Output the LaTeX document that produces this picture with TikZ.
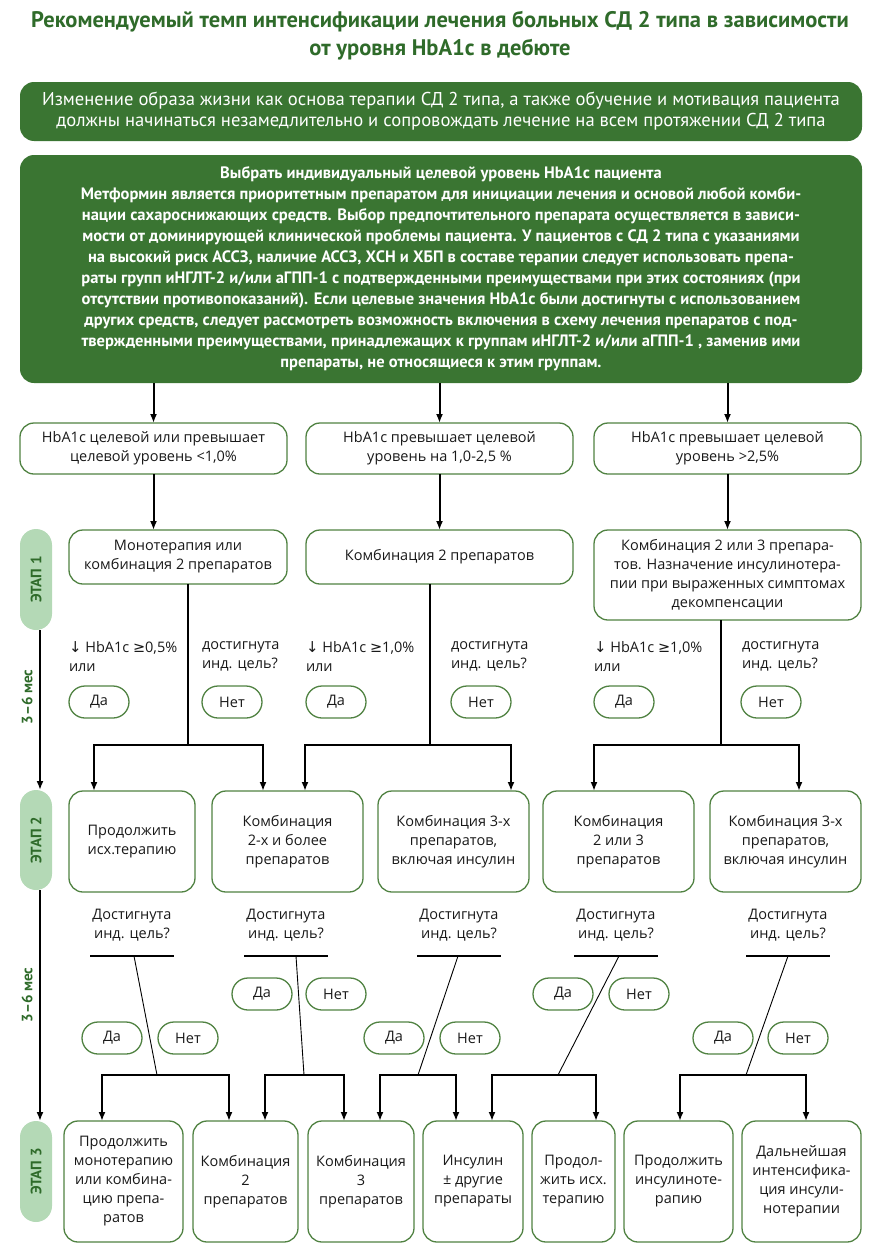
\documentclass[tikz,border=0pt]{standalone}
\usepackage{fontspec}
\setmainfont{Open Sans}
\newfontfamily\ptsans{PT Sans}
\newfontfamily\symf{DejaVu Sans}
\usetikzlibrary{arrows.meta}
\definecolor{gdark}{RGB}{58,117,50}
\definecolor{gtitle}{RGB}{47,107,42}
\definecolor{gline}{RGB}{80,130,66}
\definecolor{glight}{RGB}{180,217,182}
\definecolor{ink}{RGB}{25,25,25}
\begin{document}
\begin{tikzpicture}[x=1pt,y=-1pt,
  every node/.style={inner sep=0pt,outer sep=0pt},
  gbox/.style={fill=gdark,rounded corners=14pt,text=white,align=center},
  nbox/.style={draw=gline,line width=1.3pt,rounded corners=14pt,fill=white,align=center,text=ink,
    font=\fontsize{14.5}{19}\selectfont},
  pill/.style={draw=gline,line width=1.3pt,rounded corners=16pt,minimum width=60pt,minimum height=32pt,
    text=ink,font=\fontsize{14.5}{19}\selectfont},
  crit/.style={anchor=west,align=left,text=ink,font=\fontsize{14.5}{19}\selectfont},
  quest/.style={align=center,text=ink,font=\fontsize{14.5}{19}\selectfont},
  etap/.style={fill=glight,rounded corners=16pt,minimum height=32pt,rotate=90,text=gtitle,
    font=\ptsans\bfseries\fontsize{15}{18}\selectfont},
  mes/.style={rotate=90,text=gtitle,font=\ptsans\bfseries\fontsize{15}{18}\selectfont},
  con/.style={line width=2pt,draw=black},
  arr/.style={line width=2pt,draw=black,-{Latex[length=9pt,width=7pt]}},
  thinl/.style={line width=0.9pt,draw=black}
]
\useasboundingbox (0,0) rectangle (880,1255);

% title
\node[align=center,text=gtitle,font=\ptsans\bfseries\fontsize{22.5}{28}\selectfont] (title) at (440,36)
  {Рекомендуемый темп интенсификации лечения больных СД 2 типа в зависимости\\от уровня HbA1c в дебюте};

% green boxes
\node[gbox,minimum width=842pt,minimum height=59pt,font=\ptsans\fontsize{18.6}{21}\selectfont] (life) at (441,111.5)
  {Изменение образа жизни как основа терапии СД 2 типа, а также обучение и мотивация пациента\\
   должны начинаться незамедлительно и сопровождать лечение на всем протяжении СД 2 типа};
\node[gbox,minimum width=842pt,minimum height=228pt,font=\ptsans\bfseries\fontsize{16.5}{21}\selectfont] (goal) at (441,269)
  {Выбрать индивидуальный целевой уровень HbA1c пациента\\
   Метформин является приоритетным препаратом для инициации лечения и основой любой комби-\\
   нации сахароснижающих средств. Выбор предпочтительного препарата осуществляется в зависи-\\
   мости от доминирующей клинической проблемы пациента. У пациентов с СД 2 типа с указаниями\\
   на высокий риск АССЗ, наличие АССЗ, ХСН и ХБП в составе терапии следует использовать препа-\\
   раты групп иНГЛТ-2 и/или аГПП-1 с подтвержденными преимуществами при этих состояниях (при\\
   отсутствии противопоказаний). Если целевые значения HbA1c были достигнуты с использованием\\
   других средств, следует рассмотреть возможность включения в схему лечения препаратов с под-\\
   твержденными преимуществами, принадлежащих к группам иНГЛТ-2 и/или аГПП-1 , заменив ими\\
   препараты, не относящиеся к этим группам.};

% level 1
\node[nbox,minimum width=267pt,minimum height=51pt] (h1a) at (153.5,448.5) {HbA1c целевой или превышает\\целевой уровень <1,0\%};
\node[nbox,minimum width=267pt,minimum height=51pt] (h1b) at (439.5,448.5) {HbA1c превышает целевой\\уровень на 1,0-2,5 \%};
\node[nbox,minimum width=267pt,minimum height=51pt] (h1c) at (727.5,448.5) {HbA1c превышает целевой\\уровень >2,5\%};

% etap 1 boxes
\node[nbox,minimum width=218pt,minimum height=54pt] (s1a) at (178,557) {Монотерапия или\\комбинация 2 препаратов};
\node[nbox,minimum width=267pt,minimum height=54pt] (s1b) at (439.5,557) {Комбинация 2 препаратов};
\node[nbox,minimum width=267pt,minimum height=90pt] (s1c) at (727.5,575) {Комбинация 2 или 3 препара-\\тов. Назначение инсулинотера-\\пии при выраженных симптомах\\декомпенсации};

% etap pills and timeline
\node[etap,minimum width=101pt] (et1) at (36,579.5) {ЭТАП 1};
\node[etap,minimum width=100pt] (et2) at (36,840) {ЭТАП 2};
\node[etap,minimum width=101pt] (et3) at (36,1171.5) {ЭТАП 3};
\node[mes] (m1) at (27,697) {3–6 мес};
\node[mes] (m2) at (27,995) {3–6 мес};
\draw[arr] ([xshift=4pt]et1.west) -- ([xshift=4pt]et2.east);
\draw[arr] ([xshift=4pt]et2.west) -- ([xshift=4pt]et3.east);

% criteria etap 1
\node[crit] (c1a) at (69,656.5) {{\symf\fontsize{15}{19}\selectfont ↓} HbA1c {\symf ≥}0,5\%\\или};
\node[crit] (c1b) at (202,656.5) {достигнута\\инд. цель?};
\node[crit] (c2a) at (306,656.5) {{\symf\fontsize{15}{19}\selectfont ↓} HbA1c {\symf ≥}1,0\%\\или};
\node[crit] (c2b) at (451,656.5) {достигнута\\инд. цель?};
\node[crit] (c3a) at (594,656.5) {{\symf\fontsize{15}{19}\selectfont ↓} HbA1c {\symf ≥}1,0\%\\или};
\node[crit] (c3b) at (742,656.5) {достигнута\\инд. цель?};
\node[pill] (p1y) at (99,702) {Да};
\node[pill] (p1n) at (232,702) {Нет};
\node[pill] (p2y) at (336,702) {Да};
\node[pill] (p2n) at (481,702) {Нет};
\node[pill] (p3y) at (624,702) {Да};
\node[pill] (p3n) at (771,702) {Нет};

% etap 2 boxes
\node[nbox,minimum width=126pt,minimum height=101pt] (e1) at (132,841.5) {Продолжить\\исх.терапию};
\node[nbox,minimum width=151pt,minimum height=101pt] (e2) at (287.5,841.5) {Комбинация\\2-х и более\\препаратов};
\node[nbox,minimum width=151pt,minimum height=101pt] (e3) at (453.5,841.5) {Комбинация 3-х\\препаратов,\\включая инсулин};
\node[nbox,minimum width=151pt,minimum height=101pt] (e4) at (618.5,841.5) {Комбинация\\2 или 3\\препаратов};
\node[nbox,minimum width=151pt,minimum height=101pt] (e5) at (785.5,841.5) {Комбинация 3-х\\препаратов,\\включая инсулин};

% forks etap1 -> etap2
\coordinate (f1) at (188,745); \coordinate (f1l) at (94,745); \coordinate (f1r) at (263,745);
\coordinate (f2) at (430,745); \coordinate (f2l) at (305,745); \coordinate (f2r) at (511,745);
\coordinate (f3) at (721,745); \coordinate (f3l) at (594,745); \coordinate (f3r) at (799,745);
\draw[con] (s1a.south -| f1) -- (f1);
\draw[arr] (f1) -| (f1l |- e1.north);
\draw[arr] (f1) -| (f1r |- e2.north);
\draw[con] (s1b.south -| f2) -- (f2);
\draw[arr] (f2) -| (f2l |- e2.north);
\draw[arr] (f2) -| (f2r |- e3.north);
\draw[con] (s1c.south -| f3) -- (f3);
\draw[arr] (f3) -| (f3l |- e4.north);
\draw[arr] (f3) -| (f3r |- e5.north);

% level 1 arrows
\draw[arr] (goal.south -| h1a) -- (h1a.north);
\draw[arr] (goal.south -| h1b) -- (h1b.north);
\draw[arr] (goal.south -| h1c) -- (h1c.north);
\draw[arr] (h1a.south) -- (h1a.south |- s1a.north);
\draw[arr] (h1b.south) -- (s1b.north);
\draw[arr] (h1c.south) -- (s1c.north);

% questions etap 2
\node[quest] (q1) at (132,925.5) {Достигнута\\инд. цель?};
\node[quest] (q2) at (286,925.5) {Достигнута\\инд. цель?};
\node[quest] (q3) at (459,925.5) {Достигнута\\инд. цель?};
\node[quest] (q4) at (616,925.5) {Достигнута\\инд. цель?};
\node[quest] (q5) at (788,925.5) {Достигнута\\инд. цель?};
\foreach \i/\x in {1/132,2/286,3/459,4/616,5/788}{
  \coordinate (u\i) at (\x,956);
  \draw[con] ([xshift=-42pt]u\i) -- ([xshift=42pt]u\i);
}
\node[pill] (py1) at (112,1038) {Да};
\node[pill] (pn1) at (188,1038) {Нет};
\node[pill] (py2) at (262,994) {Да};
\node[pill] (pn2) at (336,994) {Нет};
\node[pill] (py3) at (394,1038) {Да};
\node[pill] (pn3) at (470,1038) {Нет};
\node[pill] (py4) at (563,994) {Да};
\node[pill] (pn4) at (639,994) {Нет};
\node[pill] (py5) at (723,1038) {Да};
\node[pill] (pn5) at (798,1038) {Нет};

% etap 3 boxes
\node[nbox,minimum width=119pt,minimum height=121pt] (b1) at (123.5,1181.5) {Продолжить\\монотерапию\\или комбина-\\цию препа-\\ратов};
\node[nbox,minimum width=105pt,minimum height=121pt] (b2) at (245.5,1181.5) {Комбинация\\2\\препаратов};
\node[nbox,minimum width=106pt,minimum height=121pt] (b3) at (361,1181.5) {Комбинация\\3\\препаратов};
\node[nbox,minimum width=100pt,minimum height=121pt] (b4) at (473,1181.5) {Инсулин\\± другие\\препараты};
\node[nbox,minimum width=83pt,minimum height=121pt] (b5) at (573.5,1181.5) {Продол-\\жить исх.\\терапию};
\node[nbox,minimum width=109pt,minimum height=121pt] (b6) at (678.5,1181.5) {Продолжить\\инсулиноте-\\рапию};
\node[nbox,minimum width=119pt,minimum height=121pt] (b7) at (801.5,1181.5) {Дальнейшая\\интенсифика-\\ция инсули-\\нотерапии};

% diagonals and forks etap2 -> etap3
\coordinate (d1) at (134,956); \coordinate (k1) at (157,1075);
\coordinate (d2) at (296,956); \coordinate (k2) at (304,1075);
\coordinate (d3) at (458,956); \coordinate (k3) at (418,1075);
\coordinate (d4) at (619,956); \coordinate (k4) at (558,1075);
\coordinate (d5) at (788,956); \coordinate (k5) at (746,1075);
\foreach \i in {1,...,5}{\draw[thinl] (d\i) -- (k\i);}
\coordinate (l1) at (102,1075); \coordinate (r1) at (229,1075);
\coordinate (l2) at (265,1075); \coordinate (r2) at (344,1075);
\coordinate (l3) at (380,1075); \coordinate (r3) at (456,1075);
\coordinate (l4) at (492,1075); \coordinate (r4) at (596,1075);
\coordinate (l5) at (680,1075); \coordinate (r5) at (806,1075);
\draw[arr] (k1) -| (l1 |- b1.north);
\draw[arr] (k1) -| (r1 |- b2.north);
\draw[arr] (k2) -| (l2 |- b2.north);
\draw[arr] (k2) -| (r2 |- b3.north);
\draw[arr] (k3) -| (l3 |- b3.north);
\draw[arr] (k3) -| (r3 |- b4.north);
\draw[arr] (k4) -| (l4 |- b4.north);
\draw[arr] (k4) -| (r4 |- b5.north);
\draw[arr] (k5) -| (l5 |- b6.north);
\draw[arr] (k5) -| (r5 |- b7.north);
\end{tikzpicture}
\end{document}
